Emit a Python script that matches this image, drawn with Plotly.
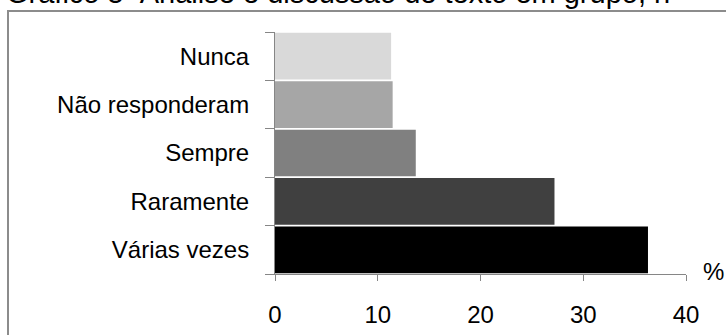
import plotly.graph_objects as go

# Survey answers (percent of respondents)
categories = ["Várias vezes", "Raramente", "Sempre", "Não responderam", "Nunca"]
values = [36.3, 27.2, 13.7, 11.45, 11.3]
colors = ["#000000", "#404040", "#808080", "#a6a6a6", "#d9d9d9"]
x_ticks = [0, 10, 20, 30, 40]

title_text = "Gráfico 5- Análise e discussão de texto em grupo, n"

W, H = 726, 335
L, R, T, B = 275, 40, 32, 61
FONT = "Liberation Sans, Arial, sans-serif"
AXIS_GRAY = "#868686"

plot_w = W - L - R
plot_h = H - T - B


def px_x(px):
    return (px - L) / plot_w


def px_y(py):
    return 1 - (py - T) / plot_h


fig = go.Figure(
    go.Bar(
        x=values,
        y=categories,
        orientation="h",
        marker=dict(color=colors, line=dict(width=0)),
        hoverinfo="skip",
    )
)

fig.update_layout(
    width=W,
    height=H,
    margin=dict(l=L, r=R, t=T, b=B, pad=0, autoexpand=False),
    paper_bgcolor="white",
    plot_bgcolor="white",
    bargap=0.035,
    showlegend=False,
    font=dict(family=FONT, size=24, color="#000000"),
)

fig.update_xaxes(
    range=[0, 40],
    tickvals=x_ticks,
    ticktext=[str(v) for v in x_ticks],
    automargin=False,
    showgrid=False,
    zeroline=False,
    showline=True,
    linecolor=AXIS_GRAY,
    linewidth=1,
    ticks="outside",
    ticklen=6,
    tickcolor=AXIS_GRAY,
    tickwidth=1,
    ticklabelstandoff=13,
    tickfont=dict(family=FONT, size=24),
)

fig.update_yaxes(
    categoryorder="array",
    categoryarray=categories,
    range=[-0.5, 4.5],
    automargin=False,
    showgrid=False,
    zeroline=False,
    showline=True,
    linecolor=AXIS_GRAY,
    linewidth=1,
    ticks="outside",
    tickson="boundaries",
    ticklen=9,
    tickcolor=AXIS_GRAY,
    tickwidth=1,
    ticklabelstandoff=20,
    tickfont=dict(family=FONT, size=24),
)

# Unit label at the end of the value axis
fig.add_annotation(
    text="%",
    xref="paper", yref="paper",
    x=px_x(713), y=px_y(271),
    xanchor="center", yanchor="middle",
    showarrow=False,
    font=dict(family=FONT, size=24),
)

# Figure caption above the chart frame
fig.add_annotation(
    text=title_text,
    xref="paper", yref="paper",
    x=px_x(4), y=px_y(11),
    xanchor="left", yanchor="bottom",
    showarrow=False,
    font=dict(family=FONT, size=29),
)

# Outer frame around the chart
fig.add_shape(
    type="rect",
    xref="paper", yref="paper",
    x0=px_x(8), x1=px_x(W + 20),
    y0=px_y(H + 20), y1=px_y(11),
    line=dict(color="#8c8c8c", width=2),
    fillcolor="rgba(0,0,0,0)",
    layer="below",
)

fig.write_html("out.html")
